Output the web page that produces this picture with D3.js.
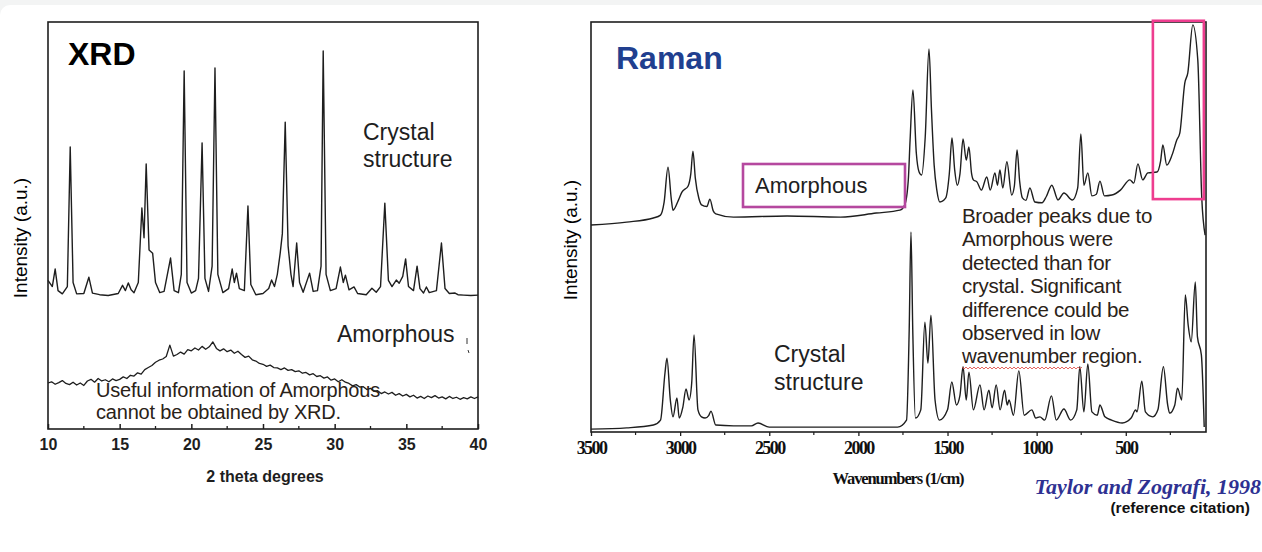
<!DOCTYPE html>
<html>
<head>
<meta charset="utf-8">
<script src="https://cdn.jsdelivr.net/npm/d3@7"></script>
<style>
  body { margin: 0; background: #f3f4f4; }
  svg { display: block; }
  .sans { font-family: "Liberation Sans", Arial, sans-serif; }
  .serif { font-family: "Liberation Serif", "Times New Roman", serif; }
</style>
</head>
<body>
<svg width="1262" height="552"></svg>
<script>
// XRD, crystal trace: [2 theta, intensity]
var xrdCrystal = [
  [10.0, 36.5], [10.3, 35], [10.5, 39.3], [10.7, 34], [11.0, 33.2], [11.35, 35], [11.55, 69.3], [11.75, 36],
  [12.0, 33.2], [12.5, 33.3], [12.85, 37.3], [13.1, 33.4], [13.6, 33], [14.2, 32.8], [14.9, 33.3], [15.2, 35.3],
  [15.4, 34], [15.6, 35.9], [15.8, 34.2], [16.0, 33.5], [16.3, 36], [16.55, 54.3], [16.7, 47], [16.85, 65.1],
  [17.05, 44], [17.3, 43.2], [17.5, 36], [17.8, 33.5], [18.1, 33.8], [18.55, 42.0], [18.8, 34], [19.1, 33.5],
  [19.3, 38], [19.5, 88.0], [19.7, 36], [20.0, 33.4], [20.3, 34], [20.5, 37], [20.75, 70.3], [20.95, 37],
  [21.2, 33.8], [21.45, 40], [21.65, 88.7], [21.85, 38], [22.2, 33.5], [22.6, 34.5], [22.85, 39.3], [23.0, 36],
  [23.15, 38.3], [23.35, 34.5], [23.7, 34], [23.95, 54.8], [24.15, 35.5], [24.5, 33], [25.0, 33.3], [25.4, 34.5],
  [25.6, 36.6], [25.8, 35], [26.0, 38], [26.2, 43.2], [26.35, 48], [26.55, 75.4], [26.75, 45], [26.95, 38],
  [27.1, 35], [27.35, 45.7], [27.55, 36], [27.8, 33.6], [28.25, 38.3], [28.5, 33.8], [28.8, 34], [29.05, 40],
  [29.2, 92.9], [29.4, 38], [29.7, 34], [30.1, 34.5], [30.4, 39.8], [30.6, 36], [30.75, 37.8], [31.0, 34.2],
  [31.35, 34.9], [31.6, 33.3], [32.2, 33], [32.6, 34.6], [32.9, 33.6], [33.2, 35], [33.5, 55.5], [33.75, 36.5],
  [34.0, 35], [34.3, 36.6], [34.5, 35.8], [34.75, 37.5], [34.95, 41.8], [35.15, 35], [35.5, 34], [35.75, 40.0],
  [35.95, 34.5], [36.2, 33.4], [36.4, 34.9], [36.6, 33.5], [37.1, 34], [37.45, 45.7], [37.7, 34.5], [38.0, 33.3],
  [38.4, 33.4], [38.6, 33], [39.0, 32.9], [39.5, 32.8], [40.0, 32.9]
];

// XRD, amorphous trace
var xrdAmorphous = [
  [10.0, 11.3], [10.25, 11.6], [10.5, 11.0], [10.75, 11.4], [11.0, 11.9], [11.25, 11.2], [11.5, 10.9], [11.75, 11.5],
  [12.0, 10.8], [12.25, 11.3], [12.5, 10.7], [12.75, 11.8], [13.0, 12.2], [13.25, 11.5], [13.5, 12.4], [13.75, 11.8],
  [14.0, 12.1], [14.25, 11.6], [14.5, 12.3], [14.75, 11.9], [15.0, 12.2], [15.25, 12.8], [15.5, 12.4], [15.75, 13.2],
  [16.0, 13.0], [16.25, 13.8], [16.5, 13.5], [16.75, 14.6], [17.0, 15.1], [17.25, 15.6], [17.5, 16.4], [17.75, 16.9],
  [18.0, 17.2], [18.25, 17.8], [18.5, 20.6], [18.75, 17.9], [19.0, 18.3], [19.25, 18.9], [19.5, 18.4], [19.75, 19.5],
  [20.0, 19.2], [20.25, 19.9], [20.5, 19.4], [20.75, 20.3], [21.0, 19.6], [21.25, 20.2], [21.5, 21.4], [21.75, 19.8],
  [22.0, 19.2], [22.25, 19.7], [22.5, 19.0], [22.75, 19.4], [23.0, 18.6], [23.25, 19.1], [23.5, 18.3], [23.75, 17.6],
  [24.0, 17.9], [24.25, 17.0], [24.5, 16.7], [24.75, 16.1], [25.0, 15.9], [25.25, 15.4], [25.5, 15.7], [25.75, 15.1],
  [26.0, 15.0], [26.25, 14.6], [26.5, 15.0], [26.75, 14.4], [27.0, 14.6], [27.25, 14.1], [27.5, 14.3], [27.75, 13.7],
  [28.0, 13.9], [28.25, 13.3], [28.5, 13.6], [28.75, 12.9], [29.0, 13.1], [29.25, 12.5], [29.5, 12.8], [29.75, 12.0],
  [30.0, 12.3], [30.25, 11.6], [30.5, 12.1], [30.75, 11.5], [31.0, 11.2], [31.25, 10.6], [31.5, 10.9], [31.75, 10.3],
  [32.0, 10.4], [32.25, 9.7], [32.5, 10.0], [32.75, 9.3], [33.0, 9.4], [33.25, 8.7], [33.5, 9.1], [33.75, 8.6],
  [34.0, 9.0], [34.25, 8.3], [34.5, 8.7], [34.75, 8.1], [35.0, 8.5], [35.25, 7.9], [35.5, 8.3], [35.75, 7.6],
  [36.0, 8.0], [36.25, 7.5], [36.5, 8.1], [36.75, 7.7], [37.0, 8.2], [37.25, 7.6], [37.5, 7.9], [37.75, 7.4],
  [38.0, 8.0], [38.25, 7.5], [38.5, 7.8], [38.75, 7.3], [39.0, 7.7], [39.25, 7.4], [39.5, 7.9], [39.75, 7.5], [40.0, 7.9]
];
var xrdTicks = [10, 15, 20, 25, 30, 35, 40];

// Raman, amorphous trace: [wavenumber, intensity]
var ramanAmorphous = [
  [3500, 50.5], [3300, 51.2], [3150, 52.2], [3110, 52.9], [3090, 56], [3068, 64.6], [3050, 57], [3040, 54.1],
  [3010, 56.5], [2990, 58.5], [2955, 60], [2940, 63], [2928, 68.5], [2915, 62], [2895, 57], [2880, 55.4],
  [2850, 55], [2833, 56.8], [2815, 54], [2800, 53.2], [2700, 52.4], [2400, 52.7], [2100, 52.4], [1900, 53.4],
  [1767, 54.1], [1740, 55.4], [1720, 61.5], [1710, 71.2], [1694, 83.4], [1675, 68], [1660, 63.5], [1645, 62.7],
  [1625, 72], [1604, 93.4], [1590, 78.5], [1575, 65.1], [1560, 59], [1543, 56.1], [1510, 57.1], [1490, 63],
  [1475, 71.7], [1460, 64], [1445, 60.2], [1430, 63], [1413, 71.5], [1395, 66.3], [1380, 69.5], [1365, 63],
  [1355, 61.5], [1335, 61.0], [1310, 59.0], [1280, 62.2], [1260, 59.0], [1234, 63.2], [1220, 60.2], [1206, 63.9],
  [1190, 59.5], [1167, 65.9], [1140, 57.8], [1125, 60], [1110, 68.8], [1095, 61], [1080, 57.1], [1060, 56.5],
  [1038, 59.5], [1010, 56.1], [970, 55.9], [945, 57.5], [915, 60.2], [880, 56.6], [847, 58.3], [800, 56.6],
  [770, 59.5], [752, 72.7], [735, 60.2], [713, 63.2], [690, 57.6], [665, 58], [645, 61.2], [620, 57.6],
  [578, 57.8], [530, 59.0], [477, 61.5], [455, 60.7], [432, 65.4], [405, 61.5], [376, 63.2], [325, 63.4],
  [305, 66], [292, 70.0], [270, 65.1], [240, 67.6], [214, 71.2], [197, 72.9], [169, 85.1], [152, 87.6],
  [124, 99.3], [96, 90.7], [74, 57.3], [55, 48.0]
];

// Raman, crystal trace
var ramanCrystal = [
  [3500, 0.7], [3300, 1.0], [3150, 1.7], [3110, 2.9], [3085, 14.4], [3074, 18.0], [3055, 7.8], [3040, 3.7],
  [3018, 8.3], [3005, 3.4], [2985, 6], [2967, 10.5], [2950, 7.8], [2935, 12], [2922, 23.7], [2900, 5.4],
  [2880, 3.7], [2860, 3.4], [2840, 4], [2827, 5.1], [2800, 1.7], [2700, 1.5], [2600, 1.5], [2563, 2.2],
  [2500, 1.2], [2000, 1.2], [1780, 1.2], [1730, 2.9], [1715, 24.9], [1705, 48.8], [1695, 24.9], [1680, 3.4],
  [1650, 5.4], [1627, 26.8], [1610, 16.8], [1593, 28.5], [1570, 7.8], [1545, 2.9], [1500, 5.4], [1476, 12.2],
  [1450, 6.6], [1430, 9.0], [1413, 15.9], [1395, 7.8], [1380, 14.6], [1355, 5.4], [1318, 11.5], [1295, 5.4],
  [1268, 10.2], [1250, 5.9], [1227, 11.5], [1205, 5.4], [1180, 10.2], [1165, 6.6], [1155, 7.8], [1130, 4.1],
  [1100, 14.9], [1070, 4.1], [1027, 5.4], [1005, 3.4], [982, 3.7], [955, 2.9], [917, 8.8], [890, 2.9],
  [847, 5.6], [810, 2.9], [775, 5.4], [758, 15.9], [735, 4.9], [713, 16.6], [690, 4.9], [660, 4.1],
  [645, 6.6], [617, 3.7], [580, 2.9], [520, 2.2], [470, 3.4], [445, 5.4], [437, 4.9], [410, 12.4],
  [390, 4.9], [348, 3.7], [320, 5.4], [289, 15.9], [265, 6.6], [254, 4.6], [225, 6.6], [210, 10.7],
  [186, 7.8], [166, 33.4], [150, 26.1], [133, 22.0], [110, 36.6], [98, 23.2], [76, 18.8], [60, 1.2]
];
var ramanTicks = [3500, 3000, 2500, 2000, 1500, 1000, 500];

var ramanNote = ['Broader peaks due to', 'Amorphous were', 'detected than for',
  'crystal. Significant', 'difference could be', 'observed in low', 'wavenumber region.'];

var svg = d3.select('svg');
var ink = '#1e1e1e';

// slide background
svg.append('rect').attr('x', 0).attr('y', 5).attr('width', 1270).attr('height', 560)
    .attr('rx', 10).style('fill', '#ffffff');

// ---------- XRD ----------
var xX = d3.scaleLinear().domain([10, 40]).range([48, 478]);
var yX = d3.scaleLinear().domain([0, 100]).range([429, 22]);

svg.append('rect')
    .attr('x', xX(10)).attr('y', yX(100))
    .attr('width', xX(40) - xX(10)).attr('height', yX(0) - yX(100))
    .style('fill', 'none').style('stroke', ink).style('stroke-width', 1.6);

var xAxis = svg.append('g')
    .attr('transform', 'translate(0,' + yX(0) + ')')
    .call(d3.axisBottom(xX).tickValues(xrdTicks).tickSize(-5).tickPadding(10));
xAxis.select('.domain').remove();
xAxis.selectAll('line').style('stroke', ink).style('stroke-width', 1.5);
xAxis.selectAll('text').attr('class', 'sans')
    .style('font-size', '16px').style('font-weight', 'bold').style('fill', ink);
svg.append('g')
    .attr('transform', 'translate(0,' + yX(0) + ')')
    .selectAll('line').data(d3.range(12.5, 40, 5)).enter().append('line')
    .attr('x1', xX).attr('x2', xX).attr('y1', 0).attr('y2', -3)
    .style('stroke', ink).style('stroke-width', 1.3);

var lineX = d3.line().x(function(d) {return xX(d[0]);}).y(function(d) {return yX(d[1]);});
svg.append('path').attr('d', lineX(xrdCrystal))
    .style('fill', 'none').style('stroke', ink).style('stroke-width', 1.4).style('stroke-linejoin', 'round');
svg.append('path').attr('d', lineX(xrdAmorphous))
    .style('fill', 'none').style('stroke', ink).style('stroke-width', 1.3).style('stroke-linejoin', 'round');

svg.append('text').attr('class', 'sans').attr('x', 68).attr('y', 65)
    .style('font-size', '32px').style('font-weight', 'bold').style('fill', '#000').text('XRD');
svg.append('text').attr('class', 'sans').attr('x', 363).attr('y', 140)
    .style('font-size', '23px').style('fill', ink).text('Crystal');
svg.append('text').attr('class', 'sans').attr('x', 363).attr('y', 167)
    .style('font-size', '23px').style('fill', ink).text('structure');
svg.append('text').attr('class', 'sans').attr('x', 337).attr('y', 342)
    .style('font-size', '23px').style('fill', ink).text('Amorphous');
svg.append('line').attr('x1', 467).attr('x2', 467).attr('y1', 338).attr('y2', 344)
    .style('stroke', '#333').style('stroke-width', 1);
svg.append('line').attr('x1', 468).attr('x2', 469).attr('y1', 350).attr('y2', 353)
    .style('stroke', '#333').style('stroke-width', 1);
svg.append('text').attr('class', 'sans').attr('x', 96).attr('y', 397)
    .style('font-size', '20px').style('letter-spacing', '-0.2px').style('fill', '#2a2218')
    .text('Useful information of Amorphous');
svg.append('text').attr('class', 'sans').attr('x', 96).attr('y', 419)
    .style('font-size', '20px').style('letter-spacing', '-0.2px').style('fill', '#2a2218')
    .text('cannot be obtained by XRD.');
svg.append('text').attr('class', 'sans').attr('x', 265).attr('y', 482)
    .attr('text-anchor', 'middle').style('font-size', '16px').style('font-weight', 'bold')
    .style('fill', ink).text('2 theta degrees');
svg.append('text').attr('class', 'sans')
    .attr('transform', 'translate(27,238) rotate(-90)').attr('text-anchor', 'middle')
    .style('font-size', '19px').style('fill', '#000').text('Intensity (a.u.)');

// ---------- Raman ----------
var xR = d3.scaleLinear().domain([3500, 50]).range([591, 1206]);
var yR = d3.scaleLinear().domain([0, 100]).range([432, 22]);

svg.append('rect')
    .attr('x', xR(3500)).attr('y', yR(100))
    .attr('width', xR(50) - xR(3500)).attr('height', yR(0) - yR(100))
    .style('fill', 'none').style('stroke', ink).style('stroke-width', 1.6);

var rAxis = svg.append('g')
    .attr('transform', 'translate(0,' + yR(0) + ')')
    .call(d3.axisBottom(xR).tickValues(ramanTicks).tickFormat(d3.format('d'))
        .tickSize(4).tickPadding(5));
rAxis.select('.domain').remove();
rAxis.selectAll('line').style('stroke', ink).style('stroke-width', 1.3);
rAxis.selectAll('text').attr('class', 'serif')
    .style('font-size', '18px').style('font-weight', 'bold').style('letter-spacing', '-1.6px')
    .style('fill', '#111');
svg.append('g')
    .attr('transform', 'translate(0,' + yR(0) + ')')
    .selectAll('line').data(d3.range(3250, 100, -500)).enter().append('line')
    .attr('x1', xR).attr('x2', xR).attr('y1', 0).attr('y2', 3)
    .style('stroke', ink).style('stroke-width', 1.2);

var lineR = d3.line().curve(d3.curveMonotoneX)
    .x(function(d) {return xR(d[0]);}).y(function(d) {return yR(d[1]);});
svg.append('path').attr('d', lineR(ramanAmorphous))
    .style('fill', 'none').style('stroke', ink).style('stroke-width', 1.4);
svg.append('path').attr('d', lineR(ramanCrystal))
    .style('fill', 'none').style('stroke', ink).style('stroke-width', 1.4);

// highlighted low-wavenumber region
svg.append('rect')
    .attr('x', xR(348)).attr('y', yR(100.3))
    .attr('width', xR(62) - xR(348)).attr('height', yR(56.8) - yR(100.3))
    .style('fill', 'none').style('stroke', '#ee3d8f').style('stroke-width', 2.6);

svg.append('text').attr('class', 'sans').attr('x', 616).attr('y', 69)
    .style('font-size', '32px').style('font-weight', 'bold').style('fill', '#213f8f').text('Raman');
svg.append('rect').attr('x', 743).attr('y', 164).attr('width', 162).attr('height', 43)
    .style('fill', 'none').style('stroke', '#b5489f').style('stroke-width', 2.6);
svg.append('text').attr('class', 'sans').attr('x', 755).attr('y', 193)
    .style('font-size', '22px').style('fill', ink).text('Amorphous');
svg.append('text').attr('class', 'sans').attr('x', 774).attr('y', 362)
    .style('font-size', '23px').style('fill', ink).text('Crystal');
svg.append('text').attr('class', 'sans').attr('x', 774).attr('y', 390)
    .style('font-size', '23px').style('fill', ink).text('structure');

svg.append('g').selectAll('text').data(ramanNote).enter().append('text')
    .attr('class', 'sans').attr('x', 962)
    .attr('y', function(d, i) {return 223 + i * 23.4;})
    .style('font-size', '20.5px').style('letter-spacing', '-0.3px').style('fill', '#2a2218')
    .text(function(d) {return d;});
// spell-check squiggle under "wavenumber"
var squiggle = d3.path();
squiggle.moveTo(962, 367);
for (var sx = 962; sx < 1080; sx += 4) {
    squiggle.lineTo(sx + 2, 369);
    squiggle.lineTo(sx + 4, 367);
}
svg.append('path').attr('d', squiggle)
    .style('fill', 'none').style('stroke', '#e0403a').style('stroke-width', 0.8);

svg.append('text').attr('class', 'serif').attr('x', 898).attr('y', 484)
    .attr('text-anchor', 'middle').style('font-size', '16.5px').style('font-weight', 'bold')
    .style('letter-spacing', '-1.1px').style('fill', '#111').text('Wavenumbers (1/cm)');
svg.append('text').attr('class', 'sans')
    .attr('transform', 'translate(577,240) rotate(-90)').attr('text-anchor', 'middle')
    .style('font-size', '19px').style('fill', '#000').text('Intensity (a.u.)');

svg.append('text').attr('class', 'serif').attr('x', 1261).attr('y', 494)
    .attr('text-anchor', 'end').style('font-size', '22px').style('font-weight', 'bold')
    .style('font-style', 'italic').style('fill', '#2e3192').text('Taylor and Zografi, 1998');
svg.append('text').attr('class', 'sans').attr('x', 1250).attr('y', 513)
    .attr('text-anchor', 'end').style('font-size', '15.5px').style('font-weight', 'bold')
    .style('fill', '#111').text('(reference citation)');
</script>
</body>
</html>
